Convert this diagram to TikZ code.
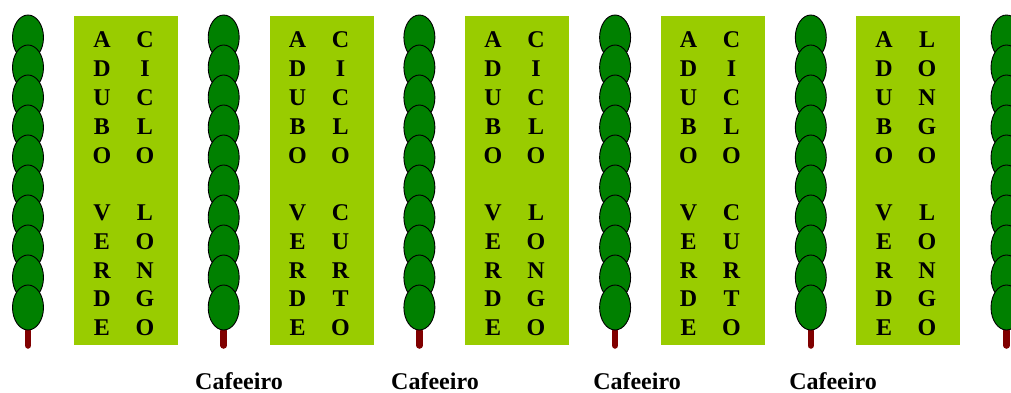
\documentclass[tikz,border=0pt]{standalone}
\usepackage{fontspec}
\setmainfont{Liberation Serif}
\definecolor{leaf}{HTML}{008000}
\definecolor{bark}{HTML}{800000}
\definecolor{strip}{HTML}{99CC00}

% one vertical word, one letter per line
\newcommand\wordcol[4]{%
  \foreach \ch [count=\r] in {#4} {
    \node[letter] (#3-\r) at (#1, {#2+28.75*(\r-1)}) {\ch};
  }%
}

\begin{document}
\begin{tikzpicture}[x=1pt,y=-1pt,
  letter/.style={font=\bfseries\fontsize{24}{24}\selectfont, anchor=base, inner sep=0pt},
  crown/.style={draw=black, fill=leaf, line width=0.9pt},
  stem/.style={draw=bark, line width=6.5pt, line cap=round},
  band/.style={fill=strip}]
\useasboundingbox (0,0) rectangle (1011,393);

% coffee rows: trunk plus a column of overlapping crowns
\foreach \i in {0,...,5} {
  \pgfmathsetmacro\tx{28+195.7*\i}
  \draw[stem] (\tx,331) -- (\tx,345.5);
  \foreach \j in {0,...,9} {
    \path[crown] (\tx,{37.5+30*\j}) ellipse [x radius=15.5pt, y radius=22.5pt];
  }
}

% green-manure strips
\foreach \i in {0,...,4} {
  \path[band] ({74+195.5*\i},16) rectangle ++(104,329);
  \wordcol{102+195.5*\i}{48}{a\i}{A,D,U,B,O}
  \wordcol{102+195.5*\i}{220.5}{v\i}{V,E,R,D,E}
}

% cycle labels of each strip
\wordcol{145}{48}{c0}{C,I,C,L,O}
\wordcol{145}{220.5}{d0}{L,O,N,G,O}
\wordcol{340.5}{48}{c1}{C,I,C,L,O}
\wordcol{340.5}{220.5}{d1}{C,U,R,T,O}
\wordcol{536}{48}{c2}{C,I,C,L,O}
\wordcol{536}{220.5}{d2}{L,O,N,G,O}
\wordcol{731.5}{48}{c3}{C,I,C,L,O}
\wordcol{731.5}{220.5}{d3}{C,U,R,T,O}
\wordcol{927}{48}{c4}{L,O,N,G,O}
\wordcol{927}{220.5}{d4}{L,O,N,G,O}

% row captions
\node[letter] (caf1) at (239,389) {Cafeeiro};
\node[letter] (caf2) at (435,389) {Cafeeiro};
\node[letter] (caf3) at (637,389) {Cafeeiro};
\node[letter] (caf4) at (833,389) {Cafeeiro};
\end{tikzpicture}
\end{document}
